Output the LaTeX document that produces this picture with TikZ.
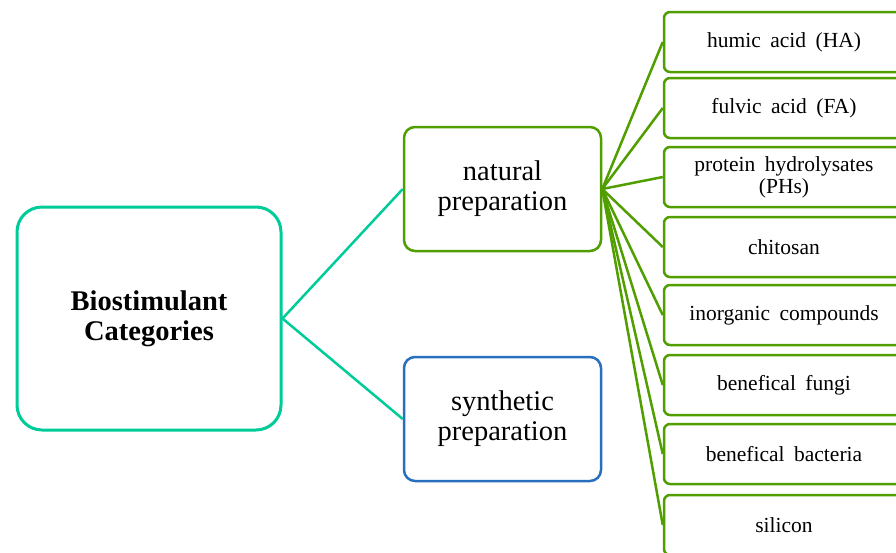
\documentclass[tikz,border=0pt]{standalone}
\usepackage{fontspec}
\setmainfont{Liberation Serif}
\usepackage{xcolor}
\usepackage{tikz}
\usetikzlibrary{shapes, positioning}

\definecolor{catteal}{RGB}{0,204,153}
\definecolor{natgreen}{RGB}{80,158,0}
\definecolor{synblue}{RGB}{40,112,190}

\newcommand{\itemfont}{\fontsize{21.5}{22}\selectfont\spaceskip=9.5pt plus 1pt\relax}

\tikzset{
	catbox/.style={draw=catteal, line width=3pt, rounded corners=25pt, minimum width=264pt, minimum height=223pt, align=center, font=\fontsize{28.5}{30}\selectfont\bfseries},
	prepbox/.style={line width=2.5pt, rounded corners=11pt, minimum width=197pt, minimum height=124pt, align=center, font=\fontsize{28.5}{30}\selectfont},
	itembox/.style={draw=natgreen, line width=2.5pt, rounded corners=6pt, minimum width=240pt, minimum height=60pt, inner sep=0pt, align=center, font=\itemfont},
	tealline/.style={draw=catteal, line width=2.5pt},
	greenline/.style={draw=natgreen, line width=2.5pt}
}

\begin{document}
\begin{tikzpicture}[x=1pt, y=-1pt]
				\useasboundingbox (0,0) rectangle (896,552);
				\clip (0,0) rectangle (896,552);
				
				\node [catbox] (bio) at (149,318.5) {Biostimulant\\Categories};
				\node [prepbox, draw=natgreen] (natural) at (502.5,189) {natural\\preparation};
				\node [prepbox, draw=synblue] (synthetic) at (502.5,419) {synthetic\\preparation};
				
				\draw [tealline] (bio.east) -- (natural.west);
				\draw [tealline] (bio.east) -- (synthetic.west);
				
				% natural preparations
				\node [itembox] (humic) at (784,42) {humic acid (HA)};
				\node [itembox] (fulvic) at (784,108) {fulvic acid (FA)};
				\node [itembox] (protein) at (784,177) {protein hydrolysates\\(PHs)};
				\node [itembox] (chitosan) at (784,247) {chitosan};
				\node [itembox] (inorganic) at (784,315) {inorganic compounds};
				\node [itembox] (fungi) at (784,385) {benefical fungi};
				\node [itembox] (bacteria) at (784,454) {benefical bacteria};
				\node [itembox] (silicon) at (784,525) {silicon};
				
				\foreach \item in {humic, fulvic, protein, chitosan, inorganic, fungi, bacteria, silicon}
					\draw [greenline] (natural.east) -- (\item.west);
			\end{tikzpicture}
\end{document}
